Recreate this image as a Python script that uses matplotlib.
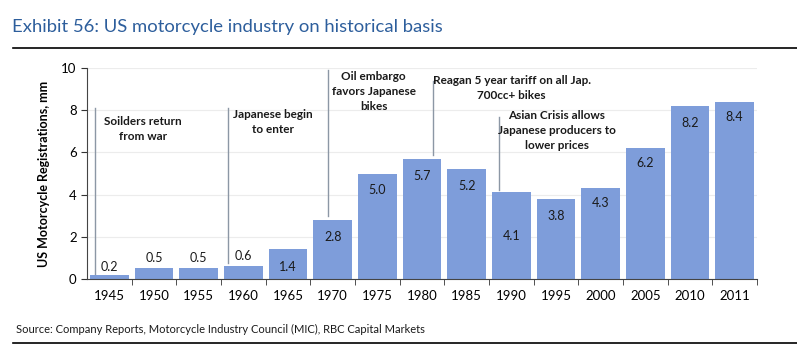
import matplotlib.pyplot as plt
from matplotlib.lines import Line2D

plt.rcParams['font.family'] = ['Lato', 'DejaVu Sans']

years = ["1945", "1950", "1955", "1960", "1965", "1970", "1975", "1980",
         "1985", "1990", "1995", "2000", "2005", "2010", "2011"]
registrations = [0.2, 0.5, 0.5, 0.6, 1.4, 2.8, 5.0, 5.7, 5.2, 4.1, 3.8, 4.3, 6.2, 8.2, 8.4]
value_labels = ["0.2", "0.5", "0.5", "0.6", "1.4", "2.8", "5.0", "5.7", "5.2",
                "4.1", "3.8", "4.3", "6.2", "8.2", "8.4"]

events = ["Soilders return\nfrom war",
          "Japanese begin\nto enter",
          "Oil embargo\nfavors Japanese\nbikes",
          "Reagan 5 year tariff on all Jap.\n700cc+ bikes",
          "Asian Crisis allows\nJapanese producers to\nlower prices"]

# label placement (offset from bar top, in data units)
label_off = [0.35, 0.5, 0.5, 0.5, -0.83, -0.8, -0.8, -0.8, -0.8, -2.05, -0.8, -0.7, -0.7, -0.8, -0.7]
# annotation layout: text x, text y, line x, line bottom, line top
ev_x = [0.75, 3.66, 5.92, 9.01, 10.02]
ev_y = [7.1, 7.43, 8.88, 9.05, 7.02]
line_x = [-0.32, 2.66, 4.9, 7.25, 8.72]
line_lo = [0.25, 0.75, 3.0, 5.9, 4.2]
line_hi = [8.1, 8.1, 9.9, 9.4, 7.7]

fig = plt.figure(figsize=(7.97, 3.6), dpi=100)
ax = fig.add_axes([87/797, 81/360, 670/797, 211/360])

x = range(len(years))
ax.bar(x, registrations, width=0.86, color="#7E9DDA", zorder=2)
for i in x:
    ax.text(i, registrations[i] + label_off[i], value_labels[i], ha="center", va="center",
            fontsize=9, color="#1a1a1a", zorder=3)

for i in range(len(events)):
    ax.plot([line_x[i], line_x[i]], [line_lo[i], line_hi[i]], color="#8C97A5", lw=1, zorder=3)
    ax.text(ev_x[i], ev_y[i], events[i], ha="center", va="center", fontsize=8.5,
            fontweight="bold", color="#1a1a1a", linespacing=1.45, zorder=4)

ax.set_xlim(-0.5, len(years) - 0.5)
ax.set_ylim(0, 10)
ax.set_yticks([0, 2, 4, 6, 8, 10])
ax.set_xticks(list(x))
ax.set_xticklabels(years, fontsize=9.5)
ax.set_xticks([i + 0.5 for i in range(len(years))], minor=True)
ax.tick_params(axis="x", which="major", length=0, pad=8)
ax.tick_params(axis="x", which="minor", length=4, color="#333333")
ax.tick_params(axis="y", labelsize=9.5, length=4, color="#333333")
ax.grid(axis="y", color="#ececec", lw=0.8, zorder=0)
for s in ["top", "right"]:
    ax.spines[s].set_visible(False)
ax.spines["left"].set_color("#444444")
ax.spines["bottom"].set_color("#444444")
ax.set_ylabel("US Motorcycle Registrations, mm", fontsize=9, fontweight="bold", labelpad=8)

fig.text(12/797, 1 - 27/360, "Exhibit 56: US motorcycle industry on historical basis",
         fontsize=13.3, color="#2D5E9C", va="center", ha="left")
fig.add_artist(Line2D([13/797, 1.0], [1 - 48/360, 1 - 48/360], color="black", lw=1.2))
fig.text(16/797, 1 - 329/360, "Source: Company Reports, Motorcycle Industry Council (MIC), RBC Capital Markets",
         fontsize=8, color="#1a1a1a", va="center", ha="left")
fig.add_artist(Line2D([13/797, 1.0], [1 - 343/360, 1 - 343/360], color="black", lw=1.2))

fig.savefig("out.png", dpi=100)
